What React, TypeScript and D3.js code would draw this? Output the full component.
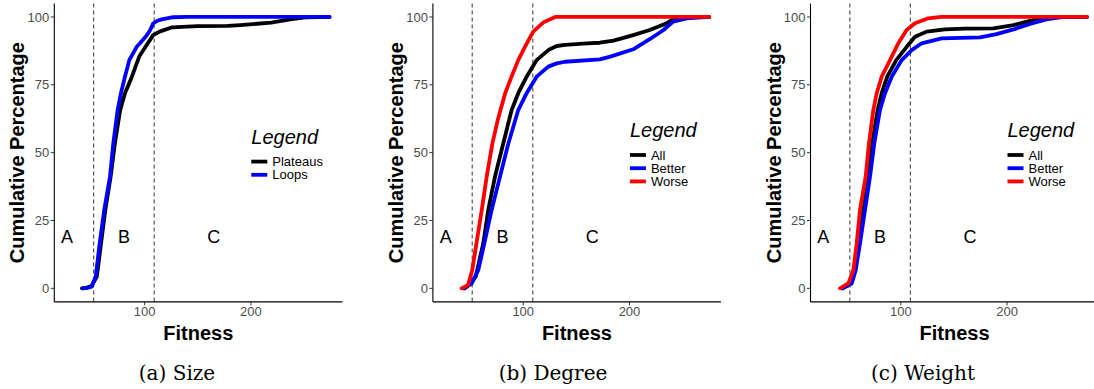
import React from "react";
import * as d3 from "d3";

type Pt = [number, number];

// Panel (a) Size
const sizePlateaus: Pt[] = [[41,0],[45,0.2],[50,0.8],[55,4.3],[59,16.6],[63,28.9],[68,41.1],[72,53.4],[77,65.7],[81.5,71.9],[88,78],[95,85.5],[103,90.3],[108,93.3],[114,94.6],[126,96.2],[150,96.6],[178,96.7],[190,97],[219,97.9],[237,99.1],[253,99.9],[274,100]];
const sizeLoops: Pt[] = [[42,0],[46,0.2],[50,0.6],[54,4.3],[57.7,16.6],[62,28.9],[67.4,41.1],[70.5,53.4],[74.6,65.7],[77.7,71.9],[81.5,78],[85.6,84.1],[92.5,89],[95.6,90.3],[101.5,93],[105,95],[108,97.6],[112,98.6],[116,99.1],[127,99.9],[140,100],[274,100]];

// Panel (b) Degree
const degreeAll: Pt[] = [[45,0],[50,1.5],[55.3,4.3],[62.4,16.6],[67.1,28.9],[73.4,41.1],[81.2,53.4],[89.1,65.7],[95.3,71.9],[103.2,78],[109.4,82],[112.6,84.1],[123.6,87.8],[131.5,89.3],[139.3,89.7],[160,90.3],[172,90.5],[185,91.3],[203.5,93.3],[219,95.2],[235,97.7],[241,99.1],[254,99.9],[275,100]];
const degreeBetter: Pt[] = [[43.6,0],[51.5,1.8],[57.7,6.7],[63.4,16.6],[70.3,28.9],[78.1,41.1],[86,53.4],[95.3,65.7],[103.2,71.9],[112.6,78],[123.6,81.7],[131.5,82.9],[139.3,83.5],[172,84.4],[182,85.4],[203.5,88.1],[219,91.8],[232,95.2],[241,98.3],[254,99.5],[275,100]];
const degreeWorse: Pt[] = [[42,0],[48,1.2],[52,6.7],[56,16.6],[61,28.9],[65.6,41.1],[71,53.4],[76,62],[83,71.9],[89,78],[95.3,84.1],[101.6,89],[109.4,94.6],[119,98],[130,100],[275,100]];

// Panel (c) Weight
const weightAll: Pt[] = [[45,0],[50,1],[55.3,4.3],[60,16.6],[64.7,28.9],[69.4,41.1],[73.1,53.4],[78.2,65.7],[82,71.9],[87.2,78],[95.7,84.1],[105.5,89],[113.3,92.7],[124.3,94.6],[141.5,95.4],[160,95.7],[187,95.8],[206,97],[221.5,98.6],[237,99.9],[275,100]];
const weightBetter: Pt[] = [[45,0],[53.8,1.8],[57.5,6.7],[61.6,16.6],[66.3,28.9],[71,41.1],[75,53.4],[80.4,65.7],[85.1,71.9],[91.4,78],[100.8,84.1],[110.2,87.8],[119.6,90.3],[138.4,92.1],[174.5,92.5],[190,93.7],[206,95.4],[221.5,97.4],[237,99.1],[253,100],[275,100]];
const weightWorse: Pt[] = [[42.8,0],[50.6,1.8],[55.3,6.7],[58.5,16.6],[61.6,28.9],[66.9,41.1],[70,53.4],[74.1,65.7],[77.3,71.9],[82,78],[89.8,84.1],[97.6,90.3],[105.5,95.2],[113.3,97.7],[125.8,99.5],[138,100],[275,100]];

const yTicks = [0, 25, 50, 75, 100];
const xTicks = [100, 200];
const cutoffs = [52, 109];
const regionLabels = ["A", "B", "C"];
const regionX = [27, 80.5, 165];
const regionY = 19;
const captions = ["(a) Size", "(b) Degree", "(c) Weight"];

type Series = { name: string; color: string; data: Pt[] };
const panels: { series: Series[] }[] = [
  { series: [
    { name: "Plateaus", color: "#000000", data: sizePlateaus },
    { name: "Loops", color: "#0000FF", data: sizeLoops },
  ] },
  { series: [
    { name: "All", color: "#000000", data: degreeAll },
    { name: "Better", color: "#0000FF", data: degreeBetter },
    { name: "Worse", color: "#FF0000", data: degreeWorse },
  ] },
  { series: [
    { name: "All", color: "#000000", data: weightAll },
    { name: "Better", color: "#0000FF", data: weightBetter },
    { name: "Worse", color: "#FF0000", data: weightWorse },
  ] },
];

const axisXs = [54.3, 432.9, 810.5];
const captionXs = [177, 553, 923];
const PW = 288;
const TOP = 3.4;
const BOTTOM = 301.9;
const SANS = "'Liberation Sans', Arial, Helvetica, sans-serif";

function Panel({ idx }: { idx: number }) {
  const ax = axisXs[idx];
  const x = d3.scaleLinear().domain([15, 286]).range([ax, ax + PW]);
  const y = d3.scaleLinear().domain([-5, 105]).range([BOTTOM, TOP]);
  const line = d3.line<Pt>().x((d) => x(d[0])).y((d) => y(d[1]));
  const series = panels[idx].series;
  const legX = ax + 197;
  const n = series.length;
  const rowH = 13.2;
  const firstRow = 155 + ((3 - n) * rowH) / 2;
  const titleBase = firstRow - 18;
  return (
    <g>
      {cutoffs.map((c, i) => (
        <line key={"c" + i} x1={x(c)} x2={x(c)} y1={TOP} y2={BOTTOM} stroke="#555" strokeWidth={1.2} strokeDasharray="4,3" />
      ))}
      {series.map((s) => (
        <path key={s.name} d={line(s.data) || ""} fill="none" stroke={s.color} strokeWidth={3.8} strokeLinejoin="round" strokeLinecap="round" />
      ))}
      {regionLabels.map((l, i) => (
        <text key={l} x={x(regionX[i])} y={y(regionY) + 6.4} textAnchor="middle" fontFamily={SANS} fontSize={18} fill="#000">{l}</text>
      ))}
      <line x1={ax} x2={ax} y1={TOP} y2={BOTTOM} stroke="#000" strokeWidth={1.1} />
      <line x1={ax} x2={ax + PW} y1={BOTTOM} y2={BOTTOM} stroke="#000" strokeWidth={1.1} />
      {yTicks.map((t) => (
        <g key={"y" + t}>
          <line x1={ax - 3.5} x2={ax} y1={y(t)} y2={y(t)} stroke="#333" strokeWidth={1} />
          <text x={ax - 5} y={y(t) + 4.6} textAnchor="end" fontFamily={SANS} fontSize={13} fill="#4d4d4d">{t}</text>
        </g>
      ))}
      {xTicks.map((t) => (
        <g key={"x" + t}>
          <line x1={x(t)} x2={x(t)} y1={BOTTOM} y2={BOTTOM + 3.5} stroke="#333" strokeWidth={1} />
          <text x={x(t)} y={BOTTOM + 14.5} textAnchor="middle" fontFamily={SANS} fontSize={13} fill="#4d4d4d">{t}</text>
        </g>
      ))}
      <text x={ax + PW / 2} y={340} textAnchor="middle" fontFamily={SANS} fontWeight="bold" fontSize={20} fill="#000">Fitness</text>
      <text transform={`translate(${ax - 30},${(TOP + BOTTOM) / 2}) rotate(-90)`} textAnchor="middle" fontFamily={SANS} fontWeight="bold" fontSize={20} fill="#000">Cumulative Percentage</text>
      <text x={legX} y={titleBase} fontFamily={SANS} fontStyle="italic" fontSize={20} fill="#000">Legend</text>
      {series.map((s, i) => {
        const cy = firstRow + i * rowH;
        return (
          <g key={"l" + s.name}>
            <line x1={legX} x2={legX + 16} y1={cy} y2={cy} stroke={s.color} strokeWidth={3.8} />
            <text x={legX + 21} y={cy + 4.5} fontFamily={SANS} fontSize={13} fill="#000">{s.name}</text>
          </g>
        );
      })}
      <text x={captionXs[idx]} y={380} textAnchor="middle" fontFamily="'DejaVu Serif', serif" fontSize={20} fill="#000">{captions[idx]}</text>
    </g>
  );
}

export default function App() {
  return (
    <svg width={1094} height={389} style={{ position: "absolute", left: 0, top: 0, display: "block", background: "#fff" }}>
      <rect width={1094} height={389} fill="#fff" />
      {panels.map((_, i) => (
        <Panel key={i} idx={i} />
      ))}
    </svg>
  );
}
